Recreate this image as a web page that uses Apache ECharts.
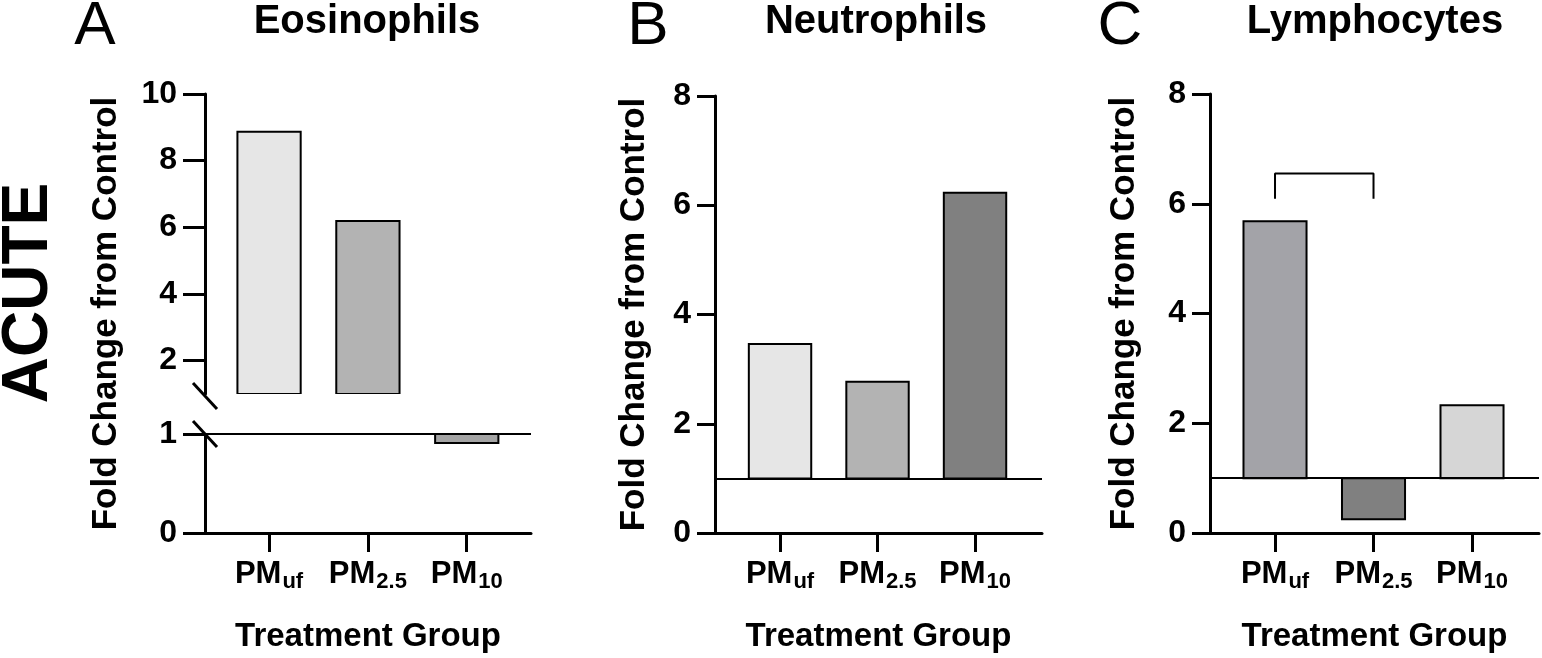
<!DOCTYPE html>
<html><head><meta charset="utf-8">
<script src="https://cdn.jsdelivr.net/npm/echarts@6/dist/echarts.min.js"></script>
<style>html,body{margin:0;padding:0;background:#fff}#c{width:1542px;height:658px}</style>
</head><body><div id="c"></div>
<script>
// ---- data ----
const groups = ['uf', '2.5', '10'];          // PM size-fraction subscripts
const groupPos = [0, 1, 2];
const eosinophils = [8.87, 6.19, 0.91];
const neutrophils = [3.46, 2.77, 6.23];
const lymphocytes = [5.68, 0.25, 2.33];
const eosTicksUpper = [2, 4, 6, 8, 10];
const eosTicksLower = [0, 1];
const cellTicks = [0, 2, 4, 6, 8];
const baseline = 1;
const bracketC = { from: 0, to: 1, top: 6.55, foot: 6.09 };
const titles = ['Eosinophils', 'Neutrophils', 'Lymphocytes'];
const panelLetters = ['A', 'B', 'C'];
const yName = 'Fold Change from Control';
const xName = 'Treatment Group';
const rowLabel = 'ACUTE';

// ---- styles ----
const eosColors = ['#e6e6e6', '#b3b3b3', '#a4a4a4'];
const neuColors = ['#e6e6e6', '#b3b3b3', '#808080'];
const lymColors = ['#a3a3a8', '#808080', '#d6d6d6'];
const FONT = '"Liberation Sans", Arial, Helvetica, sans-serif';
const BAR_W = 0.64;

const chart = echarts.init(document.getElementById('c'), null, { renderer: 'canvas' });

const lineStyle = { color: '#000', width: 3 };
const nameStyle = { fontSize: 35, fontWeight: 'bold', fontFamily: FONT, color: '#000' };

function xAxisDef(grid, min, max, visible) {
  return {
    type: 'value', gridIndex: grid, min: min, max: max, show: visible,
    splitLine: { show: false },
    axisLine: { show: true, onZero: false, lineStyle: lineStyle },
    axisTick: { show: true, length: 19, lineStyle: { color: '#000', width: 3 }, customValues: groupPos },
    axisLabel: {
      show: true, margin: 22, customValues: groupPos,
      formatter: function (v) { return '{m|PM}{s|' + groups[Math.round(v)] + '}'; },
      rich: {
        m: { fontSize: 31, fontWeight: 'bold', fontFamily: FONT, color: '#000' },
        s: { fontSize: 22, fontWeight: 'bold', fontFamily: FONT, color: '#000', padding: [16, 0, 0, 1] }
      }
    },
    name: visible ? xName : '', nameLocation: 'middle', nameGap: 87,
    nameTextStyle: { fontSize: 33, fontWeight: 'bold', fontFamily: FONT, color: '#000' }
  };
}

function yAxisDef(grid, min, max, ticks, tickLen, opts) {
  return Object.assign({
    type: 'value', gridIndex: grid, min: min, max: max,
    splitLine: { show: false },
    axisLine: { show: true, onZero: false, lineStyle: lineStyle },
    axisTick: { show: true, length: tickLen, lineStyle: { color: '#000', width: 3 }, customValues: ticks },
    axisLabel: { show: true, margin: tickLen + 6, customValues: ticks, fontSize: 32, fontWeight: 'bold', fontFamily: FONT, color: '#000' },
    nameTextStyle: nameStyle
  }, opts || {});
}

function barSeries(xi, yi, values, colors, lo, hi, withBaseline) {
  const s = {
    type: 'custom', xAxisIndex: xi, yAxisIndex: yi, clip: true, silent: true,
    data: values.map(function (v, i) { return [groupPos[i], v]; }),
    renderItem: function (params, api) {
      const x = api.value(0);
      let v = Math.max(lo, Math.min(hi, api.value(1)));
      if (v === baseline) return null;
      const p1 = api.coord([x, baseline]);
      const p2 = api.coord([x, v]);
      const w = api.size([BAR_W, 0])[0];
      return {
        type: 'rect',
        shape: { x: p1[0] - w / 2, y: Math.min(p1[1], p2[1]), width: w, height: Math.abs(p2[1] - p1[1]) },
        style: { fill: colors[params.dataIndex], stroke: '#000', lineWidth: 2 }
      };
    }
  };
  if (withBaseline) {
    s.markLine = {
      silent: true, symbol: 'none', animation: false,
      label: { show: false },
      lineStyle: { color: '#000', width: 2, type: 'solid' },
      data: [{ yAxis: baseline }]
    };
  }
  return s;
}

const xA = [-0.648, 2.65], xB = [-0.667, 2.687], xC = [-0.66, 2.68];

const option = {
  animation: false,
  backgroundColor: '#fff',
  grid: [
    { left: 205, top: 94, width: 326, height: 300 },   // A upper
    { left: 205, top: 434, width: 326, height: 99 },   // A lower
    { left: 205, top: 94, width: 326, height: 439 },   // A name holder
    { left: 715, top: 96, width: 327, height: 437 },   // B
    { left: 1210, top: 94, width: 329, height: 439 }   // C
  ],
  xAxis: [
    xAxisDef(0, xA[0], xA[1], false),
    xAxisDef(1, xA[0], xA[1], true),
    xAxisDef(2, xA[0], xA[1], false),
    xAxisDef(3, xB[0], xB[1], true),
    xAxisDef(4, xC[0], xC[1], true)
  ],
  yAxis: [
    yAxisDef(0, 1, 10, eosTicksUpper, 22),
    yAxisDef(1, 0, 1, eosTicksLower, 22),
    { type: 'value', gridIndex: 2, min: 0, max: 1, axisLine: { show: false }, axisTick: { show: false },
      axisLabel: { show: false }, splitLine: { show: false },
      name: yName, nameLocation: 'middle', nameGap: 81, nameTextStyle: nameStyle },
    yAxisDef(3, 0, 8, cellTicks, 18, { name: yName, nameLocation: 'middle', nameGap: 63 }),
    yAxisDef(4, 0, 8, cellTicks, 18, { name: yName, nameLocation: 'middle', nameGap: 68 })
  ],
  series: [
    barSeries(0, 0, eosinophils, eosColors, baseline, 10, false),
    barSeries(1, 1, eosinophils, eosColors, 0, baseline, true),
    barSeries(3, 3, neutrophils, neuColors, 0, 8, true),
    barSeries(4, 4, lymphocytes, lymColors, 0, 8, true),
    {
      type: 'line', xAxisIndex: 4, yAxisIndex: 4, silent: true, symbol: 'none',
      lineStyle: { color: '#000', width: 2 },
      data: [[bracketC.from, bracketC.foot], [bracketC.from, bracketC.top], [bracketC.to, bracketC.top], [bracketC.to, bracketC.foot]]
    }
  ]
};
chart.setOption(option);

// decorations: panel letters, titles, row label, axis-break marks
const pUp = chart.convertToPixel({ gridIndex: 0 }, [xA[0], baseline]);
const pLo = chart.convertToPixel({ gridIndex: 1 }, [xA[0], baseline]);
function slash(cx, cy) {
  return { type: 'line', z: 100, shape: { x1: cx - 12, y1: cy - 13, x2: cx + 12, y2: cy + 13 }, style: { stroke: '#000', lineWidth: 3 } };
}
function txt(t, x, y, size, weight, rot) {
  return { type: 'text', x: x, y: y, rotation: rot || 0, z: 100,
    style: { text: t, fontSize: size, fontWeight: weight, fontFamily: FONT, fill: '#000', align: 'center', verticalAlign: 'middle' } };
}
const titleX = [367, 876, 1375];
const letterX = [95, 648, 1120];
const g = [];
for (let i = 0; i < 3; i++) {
  g.push(txt(panelLetters[i], letterX[i], 27, 62, 'normal'));
  g.push(txt(titles[i], titleX[i], 22, 40, 'bold'));
}
g.push(txt(rowLabel, 29, 293, 64, 'bold', Math.PI / 2));
g.push({ type: 'rect', z: 99, shape: { x: pUp[0] - 6, y: pUp[1] + 1, width: 12, height: pLo[1] - pUp[1] - 2 }, style: { fill: '#fff' } });
g.push(slash(pUp[0], pUp[1] + 2));
g.push(slash(pLo[0], pLo[1]));
chart.setOption({ graphic: g });
</script>
</body></html>
